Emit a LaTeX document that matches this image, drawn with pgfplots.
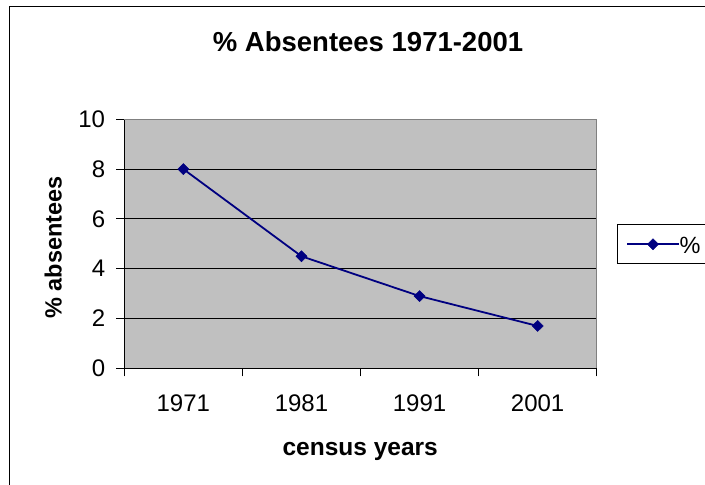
\documentclass[border=0pt]{standalone}
\usepackage{pgfplots}
\pgfplotsset{compat=1.18}
\usepackage{fontspec}
\setmainfont{Liberation Sans}

\definecolor{plotbg}{RGB}{192,192,192}
\definecolor{frameg}{RGB}{128,128,128}
\definecolor{series}{RGB}{0,0,128}

\begin{document}
\begin{tikzpicture}
\useasboundingbox (0pt,0pt) rectangle (705pt,485pt);
\clip (0pt,0pt) rectangle (705pt,485pt);
% chart area frame
\draw[black, line width=1pt] (9pt,478pt) rectangle (800pt,-100pt);
\begin{axis}[
  scale only axis,
  width=472.4pt, height=249pt,
  at={(124.3pt,116.7pt)}, anchor=south west,
  xmin=-0.5, xmax=3.5,
  ymin=0, ymax=10,
  xtick={0,1,2,3},
  xticklabels={1971,1981,1991,2001},
  minor xtick={-0.5,0.5,1.5,2.5,3.5},
  ytick={0,2,4,6,8,10},
  major x tick style={draw=none},
  tick align=outside,
  major tick length=8pt,
  minor tick length=8pt,
  tick style={black, line width=1pt},
  axis x line*=bottom,
  axis y line*=left,
  axis line style={black, line width=1pt, -},
  axis background/.style={fill=plotbg},
  ymajorgrids,
  grid style={black, line width=1pt},
  /pgf/number format/assume math mode=true,
  ticklabel style={font=\fontsize{24}{28}\selectfont},
  xticklabel style={anchor=base, inner sep=0pt, yshift=-35.4pt},
  yticklabel style={anchor=east, inner sep=0pt, xshift=-11pt},
  title={\% Absentees 1971-2001},
  title style={font=\fontsize{27.5}{32}\selectfont\bfseries,
    at={(axis description cs:0.516,1.2715)}, anchor=base, inner sep=0pt, yshift=-6pt},
  xlabel={census years},
  xlabel style={font=\fontsize{24.5}{30}\selectfont\bfseries,
    at={(axis description cs:0.4995,-0.3482)}, anchor=base, inner sep=0pt},
  ylabel={\% absentees},
  ylabel style={font=\fontsize{23.5}{28}\selectfont\bfseries,
    at={(axis description cs:-0.1325,0.485)}, anchor=base, inner sep=0pt},
  legend style={
    at={(axis description cs:1.0423,0.5783)}, anchor=north west,
    draw=black, line width=1pt, fill=white,
    inner xsep=9.3pt, inner ysep=0pt,
    font=\fontsize{23.5}{28}\selectfont,
    nodes={inner sep=0pt, text height=29pt, text depth=10pt},
    /tikz/every even column/.append style={column sep=4.4pt},
  },
  legend image code/.code={
    \path (0pt,13pt);
    \draw[#1, mark repeat=2, mark phase=2]
      plot coordinates {(0pt,0pt) (25.65pt,0pt) (51.3pt,0pt)};
  },
  after end axis/.code={
    \draw[frameg, line width=1pt]
      (rel axis cs:0,1) -- (rel axis cs:1,1) -- (rel axis cs:1,0);
  },
]
\addplot[series, line width=1.8pt, mark=diamond*, mark size=5.5pt,
  mark options={solid, fill=series, draw=series, line width=0.5pt, xscale=1.35}]
  coordinates {(0,8.0) (1,4.5) (2,2.9) (3,1.7)};
\addlegendentry{\%\hspace{40pt}}
\end{axis}
\end{tikzpicture}
\end{document}
